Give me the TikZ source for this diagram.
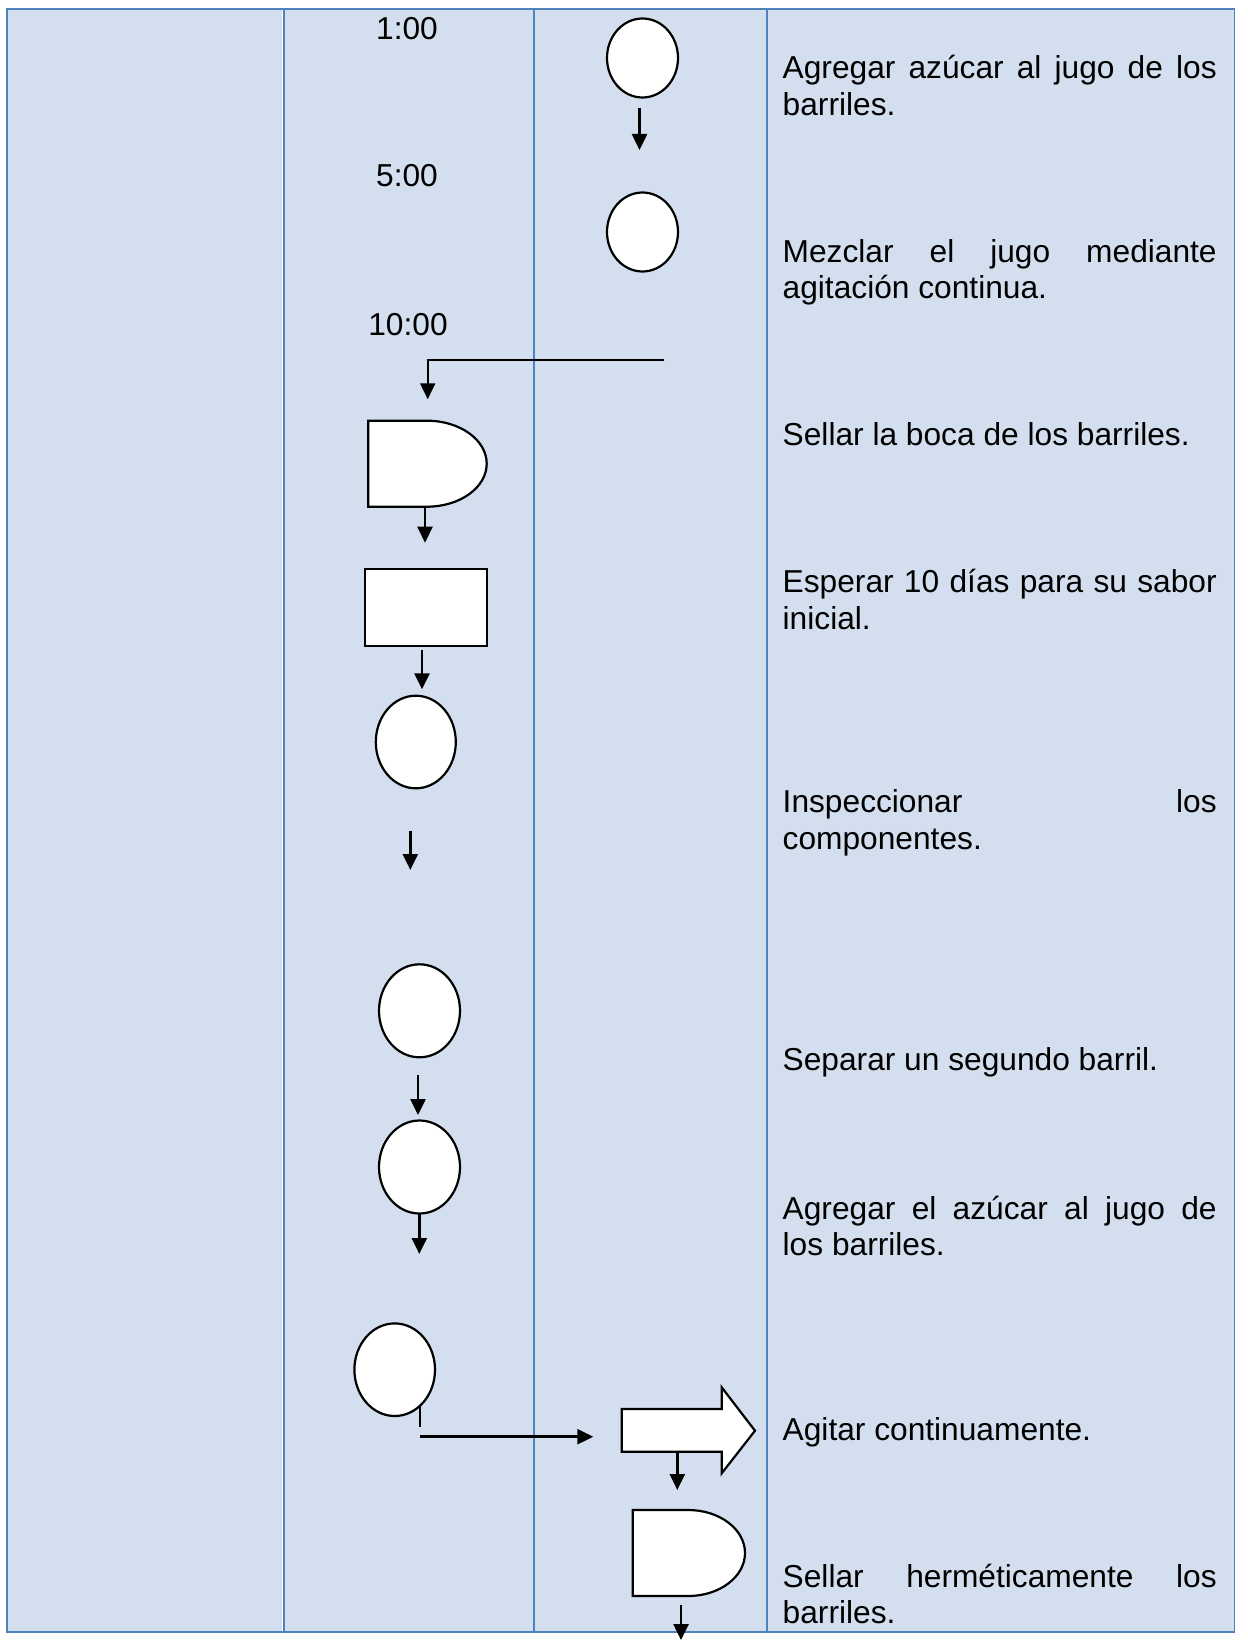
\documentclass[tikz,border=0pt]{standalone}
\usepackage{fontspec}
\setmainfont{Liberation Sans}
\usetikzlibrary{shapes.geometric,arrows.meta}
\definecolor{lanefill}{HTML}{D3DFEE}
\definecolor{laneline}{HTML}{4F81BD}
\newcommand\stepfont{\fontsize{31.7}{36.6}\selectfont\pretolerance=-1 \tolerance=10000 \hyphenpenalty=10000 \exhyphenpenalty=10000 }
\begin{document}
\begin{tikzpicture}[x=1pt,y=-1pt,
  flowline/.style={line width=2.5pt,draw=black},
  flowarrow/.style={flowline,-{Triangle[width=15pt,length=16pt]}},
  symbol/.style={draw=black,line width=2.2pt,fill=white,inner sep=0pt},
  oval/.style={symbol,ellipse,minimum width=71pt,minimum height=79pt},
  bigoval/.style={symbol,ellipse,minimum width=81pt,minimum height=93pt},
  steptext/.style={anchor=base west,inner sep=0pt,text width=434pt,align=justify,font=\stepfont},
  timetext/.style={anchor=base,inner sep=0pt,font=\stepfont},
  lane/.style={draw=laneline,line width=1.9pt}]
\useasboundingbox (0,0) rectangle (1247,1640);

% table with its four columns
\fill[lanefill] (7,9) rectangle (1234.5,1632);
\draw[white,line width=1pt] (282.4,10) -- (282.4,1631);
\draw[lane] (283.7,9) -- (283.7,1632);
\draw[lane] (534,9) -- (534,1632);
\draw[lane] (767,9) -- (767,1632);
\draw[lane] (7,9) rectangle (1234.5,1632);

% times
\node[timetext] (h1) at (407,40) {1:00};
\node[timetext] (h5) at (407,186.7) {5:00};
\node[timetext] (h10) at (408,335) {10:00};

% symbols
\node[oval] (c1) at (642.5,58) {};
\node[oval] (c2) at (642.5,232) {};
\draw[symbol] (368.3,420.7) -- (427,420.7)
  arc[start angle=-90,end angle=90,x radius=59.7,y radius=43] -- (368.3,506.7) -- cycle;
\node[symbol,rectangle,minimum width=121.7pt,minimum height=76.4pt] (r1) at (425.8,607.5) {};
\node[symbol,ellipse,minimum width=80pt,minimum height=92.6pt] (c3) at (415.8,742) {};
\node[bigoval] (c4) at (419.5,1010.8) {};
\node[bigoval] (c5) at (419.5,1167) {};
\node[symbol,ellipse,minimum width=80.6pt,minimum height=92.6pt] (c6) at (394.7,1369.7) {};
\draw[symbol] (621.7,1409) -- (721.7,1409) -- (721.7,1387.3) -- (755,1430.7)
  -- (721.7,1473.3) -- (721.7,1451.7) -- (621.7,1451.7) -- cycle;
\draw[symbol] (632.7,1510) -- (688.3,1510)
  arc[start angle=-90,end angle=90,x radius=56.7,y radius=43] -- (632.7,1596) -- cycle;

% connector end points
\coordinate (a1s) at (639.5,108);   \coordinate (a1e) at (639.5,150);
\coordinate (a2s) at (664,360.3);   \coordinate (a2k) at (427.7,360.3);
\coordinate (a2e) at (427.7,399.3);
\coordinate (a3s) at (425,507);     \coordinate (a3e) at (425,542.7);
\coordinate (a4s) at (422,650);     \coordinate (a4e) at (422,689.3);
\coordinate (a5s) at (410.3,830.7); \coordinate (a5e) at (410.3,870);
\coordinate (a6s) at (418,1075);    \coordinate (a6e) at (418,1115);
\coordinate (a7s) at (419.3,1213.3);\coordinate (a7e) at (419.3,1254);
\coordinate (t1) at (420,1406.7);   \coordinate (t2) at (420,1426.7);
\coordinate (a8s) at (420,1436.7);  \coordinate (a8e) at (593.3,1436.7);
\coordinate (a9s) at (677.3,1451.7);\coordinate (a9e) at (677.3,1490);
\coordinate (a10s) at (681,1605);   \coordinate (a10e) at (681,1640);

% connectors
\draw[flowarrow] (a1s) -- (a1e);
\draw[flowarrow,line width=1.9pt] (a2s) -- (a2k) -- (a2e);
\draw[flowarrow] (a3s) -- (a3e);
\draw[flowarrow] (a4s) -- (a4e);
\draw[flowarrow] (a5s) -- (a5e);
\draw[flowarrow] (a6s) -- (a6e);
\draw[flowarrow] (a7s) -- (a7e);
\draw[flowline,line width=1.7pt] (t1) -- (t2);
\draw[flowarrow] (a8s) -- (a8e);
\draw[flowarrow] (a9s) -- (a9e);
\draw[flowarrow] (a10s) -- (a10e);

% activity descriptions
\node[steptext] (d1) at (782.5,79) {Agregar azúcar al jugo de los\linebreak barriles.};
\node[steptext] (d2) at (782.5,262) {Mezclar el jugo mediante\linebreak agitación continua.};
\node[steptext] (d3) at (782.5,445) {Sellar la boca de los barriles.};
\node[steptext] (d4) at (782.5,592.7) {Esperar 10 días para su sabor\linebreak inicial.};
\node[steptext] (d5) at (782.5,812.7) {Inspeccionar los\linebreak componentes.};
\node[steptext] (d6) at (782.5,1070.7) {Separar un segundo barril.};
\node[steptext] (d7) at (782.5,1219.3) {Agregar el azúcar al jugo de\linebreak los barriles.};
\node[steptext] (d8) at (782.5,1440) {Agitar continuamente.};
\node[steptext] (d9) at (782.5,1587.3) {Sellar herméticamente los\linebreak barriles.};
\end{tikzpicture}
\end{document}
